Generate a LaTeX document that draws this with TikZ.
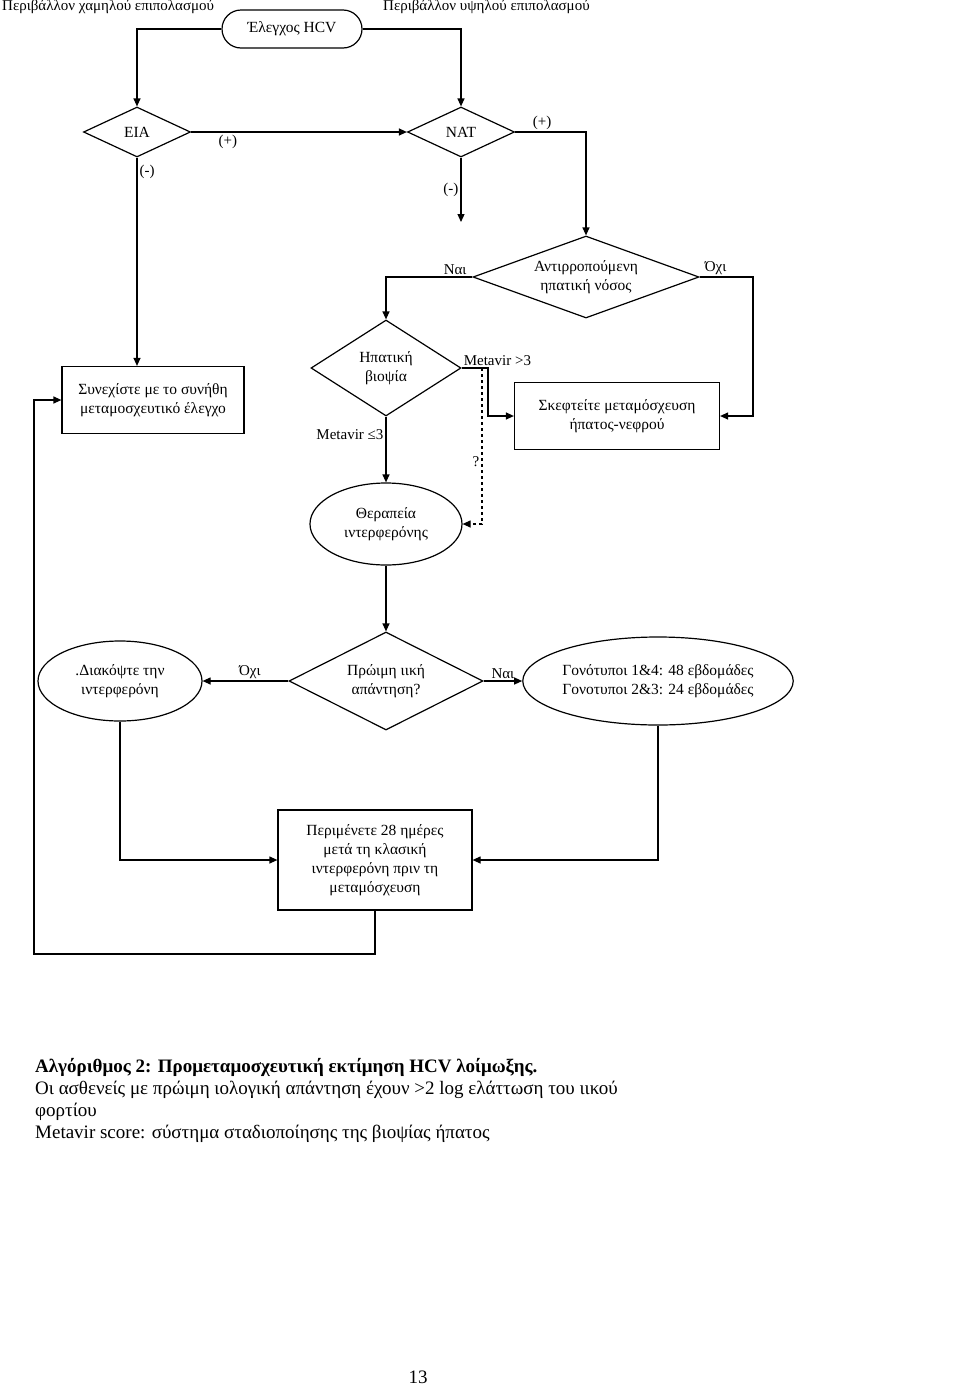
\documentclass[tikz,border=0pt]{standalone}
\usepackage{fontspec}
\setmainfont{Liberation Serif}
\usetikzlibrary{shapes.geometric,arrows.meta}
\tikzset{
  box/.style={draw, line width=1.2pt, align=center, font=\fontsize{15.5}{19}\selectfont},
  test/.style={box, diamond, inner sep=0pt},
  oval/.style={box, ellipse, inner sep=0pt},
  lbl/.style={font=\fontsize{15}{17}\selectfont, inner sep=2pt},
  link/.style={line width=1.2pt, -{Triangle[length=8pt,width=7pt]}},
}
\begin{document}
\begin{tikzpicture}[x=1pt,y=-1pt]
        \useasboundingbox (0,0) rectangle (960,1387);
        % top labels
        \node[lbl,anchor=west] (lowprev) at (0,7) {Περιβάλλον χαμηλού επιπολασμού};
        \node[lbl,anchor=west] (highprev) at (381,7) {Περιβάλλον υψηλού επιπολασμού};

        % nodes
        \node[box, rounded corners=19pt, minimum width=140pt, minimum height=38pt] (hcv) at (292,29) {Έλεγχος HCV};
        \node[test, aspect=2.14, minimum width=107pt, minimum height=50pt] (eia) at (137,132) {EIA};
        \node[test, aspect=2.14, minimum width=107pt, minimum height=50pt] (nat) at (461,132) {NAT};
        \node[test, aspect=2.76, minimum width=226pt, minimum height=82pt] (comp) at (586,277) {Αντιρροπούμενη\\ηπατική νόσος};
        \node[test, aspect=1.56, minimum width=150pt, minimum height=96pt] (biopsy) at (386,368) {Ηπατική\\βιοψία};
        \node[box, minimum width=182pt, minimum height=67pt] (cont) at (153,400) {Συνεχίστε με το συνήθη\\μεταμοσχευτικό έλεγχο};
        \node[box, minimum width=205pt, minimum height=67pt] (trans) at (617,416) {Σκεφτείτε μεταμόσχευση\\ήπατος-νεφρού};
        \node[oval, minimum width=152pt, minimum height=82pt] (ifn) at (386,524) {Θεραπεία\\ιντερφερόνης};
        \node[test, aspect=1.98, minimum width=194pt, minimum height=98pt] (early) at (386,681) {Πρώιμη ιική\\απάντηση?};
        \node[oval, minimum width=164pt, minimum height=80pt] (stop) at (120,681) {.Διακόψτε την\\ιντερφερόνη};
        \node[oval, minimum width=267pt, minimum height=88pt] (geno) at (658,681) {Γονότυποι 1\&4: 48 εβδομάδες\\Γονοτυποι 2\&3: 24 εβδομάδες};
        \node[box, minimum width=194pt, minimum height=100pt] (wait) at (375,860) {Περιμένετε 28 ημέρες\\μετά τη κλασική\\ιντερφερόνη πριν τη\\μεταμόσχευση};

        \coordinate (natneg) at (461,222);
        \coordinate (noright) at (753,277);
        \coordinate (hi) at (488,368);
        \coordinate (dq) at (482,368);
        \coordinate (bl) at (34,954);

        % connectors
        \draw[link] (hcv.west) -| (eia.north);
        \draw[link] (hcv.east) -| (nat.north);
        \draw[link] (eia.east) -- (nat.west) node[lbl,pos=0.17,below] (eiapos) {(+)};
        \draw[link] (eia.south) -- (eia.south |- cont.north) node[lbl,pos=0.07,right] (eianeg) {(-)};
        \draw[link] (nat.east) -| (comp.north) node[lbl,pos=0.19,above] (natpos) {(+)};
        \draw[link] (nat.south) -- (natneg) node[lbl,midway,left] (natnegl) {(-)};
        \draw[link] (comp.west) -| (biopsy.north) node[lbl,pos=0.1,above] (compyes) {Ναι};
        \draw[link] (comp.east) -- (noright) node[lbl,pos=0.3,above] (compno) {Όχι} |- (trans.east);
        \draw[link] (biopsy.east) -- (hi) |- (trans.west);
        \node[lbl,anchor=south west] (gt3) at (biopsy.east) {Metavir >3};
        \draw[link,dashed] (dq) |- (ifn.east) node[lbl,pos=0.3,left] (qm) {?};
        \draw[link] (biopsy.south) -- (ifn.north) node[lbl,pos=0.27,left] (le3) {Metavir ≤3};
        \draw[link] (ifn.south) -- (early.north);
        \draw[link] (early.west) -- (stop.east) node[lbl,pos=0.45,above] (earlyno) {Όχι};
        \draw[link] (early.east) -- (geno.west) node[lbl,midway,above] (earlyyes) {Ναι};
        \draw[link] (stop.south) |- (wait.west);
        \draw[link] (geno.south) |- (wait.east);
        \draw[link] (wait.south) |- (bl) |- (cont.west);

        % caption
        \node[anchor=north west, align=left, inner sep=0pt, font=\fontsize{19}{22}\selectfont] (caption) at (35,1058)
          {\textbf{Αλγόριθμος 2: Προμεταμοσχευτική εκτίμηση HCV λοίμωξης.}\\
           Οι ασθενείς με πρώιμη ιολογική απάντηση έχουν >2 log ελάττωση του ιικού\\
           φορτίου\\
           Metavir score: σύστημα σταδιοποίησης της βιοψίας ήπατος};
        \node[font=\fontsize{19}{22}\selectfont] (pagenum) at (418,1377) {13};
\end{tikzpicture}
\end{document}
